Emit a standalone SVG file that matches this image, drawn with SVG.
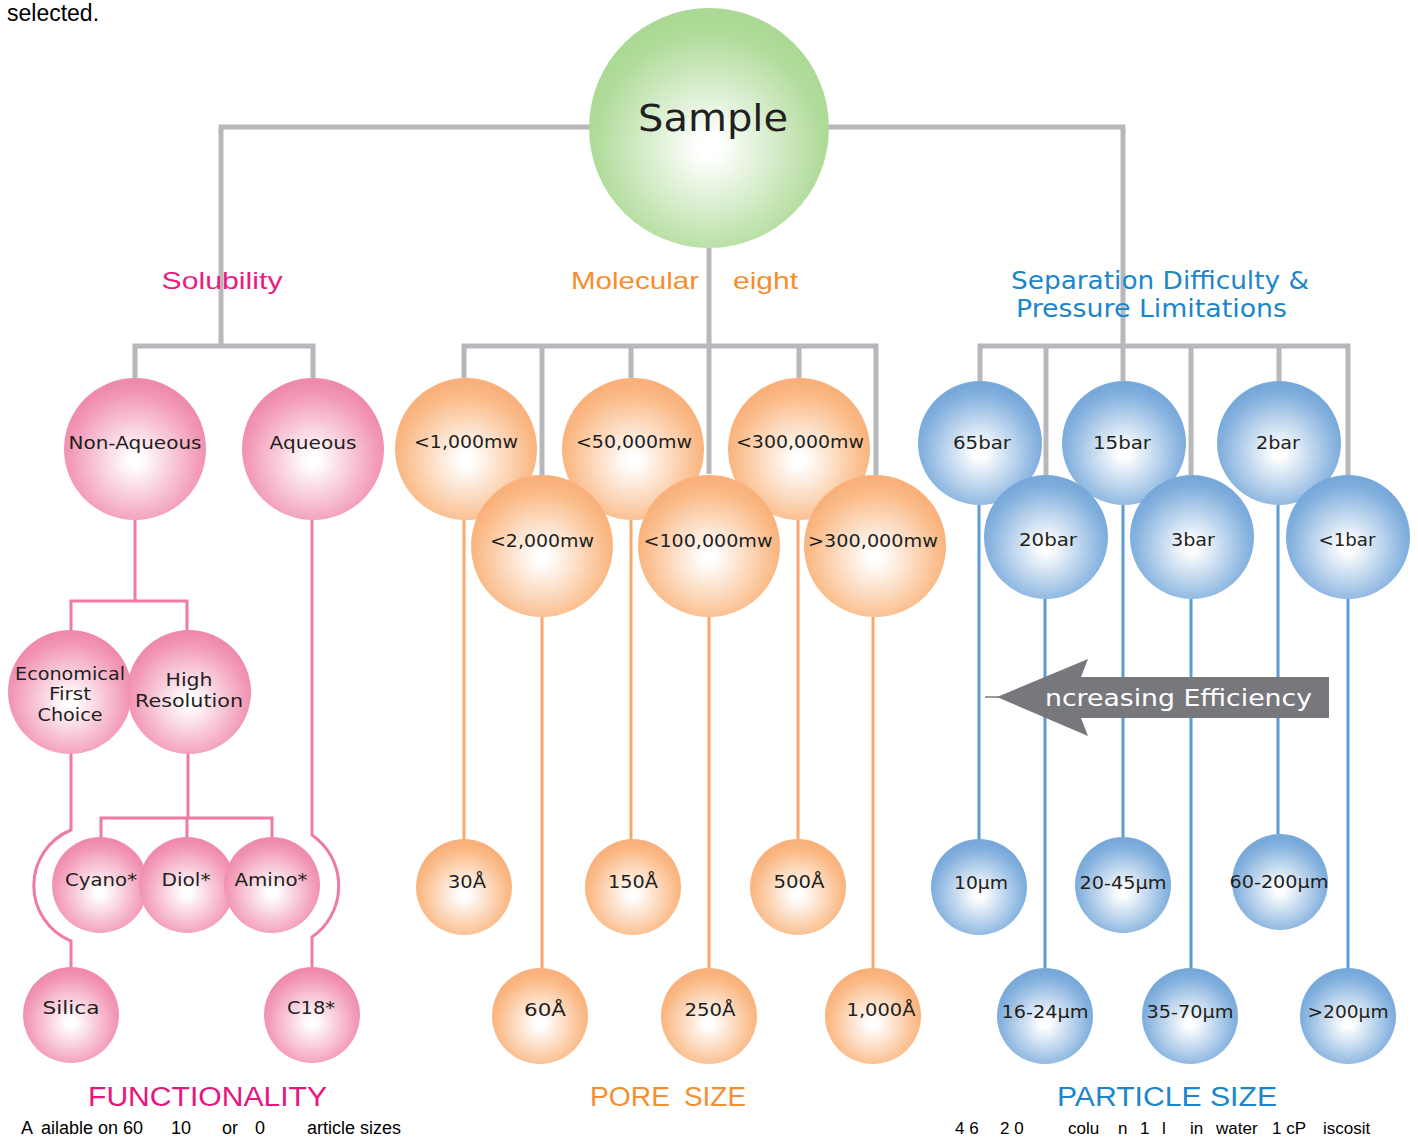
<svg xmlns="http://www.w3.org/2000/svg" width="1418" height="1137" viewBox="0 0 1418 1137">
<defs>
<radialGradient id="gG" cx="50%" cy="58%" r="55%"><stop offset="0" stop-color="#ffffff"/><stop offset="0.08" stop-color="#ffffff"/><stop offset="0.85" stop-color="#b1dc9b"/><stop offset="1" stop-color="#abd995"/></radialGradient>
<radialGradient id="gP" cx="50%" cy="58%" r="55%"><stop offset="0" stop-color="#ffffff"/><stop offset="0.08" stop-color="#ffffff"/><stop offset="0.85" stop-color="#f298b6"/><stop offset="1" stop-color="#ef8aad"/></radialGradient>
<radialGradient id="gO" cx="50%" cy="58%" r="55%"><stop offset="0" stop-color="#ffffff"/><stop offset="0.08" stop-color="#ffffff"/><stop offset="0.85" stop-color="#fab985"/><stop offset="1" stop-color="#f9b07a"/></radialGradient>
<radialGradient id="gB" cx="50%" cy="58%" r="55%"><stop offset="0" stop-color="#ffffff"/><stop offset="0.08" stop-color="#ffffff"/><stop offset="0.85" stop-color="#84b1de"/><stop offset="1" stop-color="#76a8da"/></radialGradient>
<style>
.g{fill:none;stroke:#b7b8bc;stroke-width:5}
.pl{fill:none;stroke:#f07aa2;stroke-width:3}
.ol{fill:none;stroke:#f9a86c;stroke-width:3}
.bl{fill:none;stroke:#5b9bd5;stroke-width:3}
.cp{fill:url(#gP)}
.co{fill:url(#gO)}
.cb{fill:url(#gB)}
.lbl{font-family:"DejaVu Sans",Verdana,sans-serif;font-size:18px;fill:#231f20;text-anchor:middle}
.hd{font-family:"DejaVu Sans",sans-serif;font-size:24px}
.ft{font-family:"Liberation Sans",Arial,sans-serif;font-size:18px;fill:#000}
</style>
</defs>
<rect width="1418" height="1137" fill="#ffffff"/>
<text class="ft" x="7" y="21" style="font-size:23px">selected.</text>

<g id="connectors">
<!-- gray -->
<path class="g" d="M590,127 H221 V346 M135,378 V346 H313 V378"/>
<path class="g" d="M829,127 H1123 V381"/>
<path class="g" d="M709,248 V474 M464,378 V346 H876 V475 M542,346 V475 M631,346 V378 M799,346 V378"/>
<path class="g" d="M980,381 V346 H1348 V475 M1046,346 V475 M1191,346 V475 M1279,346 V381"/>
<!-- pink -->
<path class="pl" d="M135,520 V601 M71,630 V601 H187 V630"/>
<path class="pl" d="M71,754 V830 A60,60 0 0 0 71,941 V967"/>
<path class="pl" d="M312,520 V835 A62,62 0 0 1 312,937 V967"/>
<path class="pl" d="M188,754 V818 M101,838 V818 H272 V838 M187,818 V838"/>
<!-- orange -->
<path class="ol" d="M464,520 V840 M542,617 V968 M631,520 V840 M709,617 V968 M798,520 V840 M873,617 V968"/>
<!-- blue -->
<path class="bl" d="M979,505 V840 M1045,599 V968 M1123,505 V838 M1191,599 V968 M1278,505 V834 M1348,599 V968"/>
</g>

<g id="sample"><circle cx="709" cy="128" r="120" fill="url(#gG)"/><text class="lbl" x="713" y="131" style="font-size:38px" textLength="150" lengthAdjust="spacingAndGlyphs">Sample</text></g>

<g id="headers">
<text class="hd" x="222" y="289" fill="#ec1b83" text-anchor="middle" textLength="121" lengthAdjust="spacingAndGlyphs" style="font-family:'Liberation Sans',Arial,sans-serif">Solubility</text>
<text class="hd" x="571" y="289" fill="#f68d2e" textLength="128" lengthAdjust="spacingAndGlyphs" style="font-family:'Liberation Sans',Arial,sans-serif">Molecular</text>
<text class="hd" x="733" y="289" fill="#f68d2e" textLength="65" lengthAdjust="spacingAndGlyphs" style="font-family:'Liberation Sans',Arial,sans-serif">eight</text>
<text class="hd" x="1011" y="289" fill="#1b86cc" textLength="298" lengthAdjust="spacingAndGlyphs">Separation Difficulty &amp;</text>
<text class="hd" x="1016" y="317" fill="#1b86cc" textLength="271" lengthAdjust="spacingAndGlyphs">Pressure Limitations</text>
</g>

<g id="non-aqueous"><circle class="cp" cx="135" cy="449" r="71"/><text class="lbl" x="135" y="449" textLength="133" lengthAdjust="spacingAndGlyphs">Non-Aqueous</text></g>
<g id="aqueous"><circle class="cp" cx="313" cy="449" r="71"/><text class="lbl" x="313" y="449" textLength="87" lengthAdjust="spacingAndGlyphs">Aqueous</text></g>
<g id="economical"><circle class="cp" cx="70" cy="692" r="62"/>
<text class="lbl" x="70" y="680" textLength="110" lengthAdjust="spacingAndGlyphs">Economical</text>
<text class="lbl" x="70" y="700" textLength="42" lengthAdjust="spacingAndGlyphs">First</text>
<text class="lbl" x="70" y="721" textLength="65" lengthAdjust="spacingAndGlyphs">Choice</text></g>
<g id="high-resolution"><circle class="cp" cx="189" cy="692" r="62"/>
<text class="lbl" x="189" y="686" textLength="47" lengthAdjust="spacingAndGlyphs">High</text>
<text class="lbl" x="189" y="707" textLength="108" lengthAdjust="spacingAndGlyphs">Resolution</text></g>
<g id="cyano"><circle class="cp" cx="100" cy="885" r="48"/><text class="lbl" x="101" y="886" textLength="72" lengthAdjust="spacingAndGlyphs">Cyano*</text></g>
<g id="diol"><circle class="cp" cx="187" cy="885" r="48"/><text class="lbl" x="186" y="886" textLength="49" lengthAdjust="spacingAndGlyphs">Diol*</text></g>
<g id="amino"><circle class="cp" cx="272" cy="885" r="48"/><text class="lbl" x="271" y="886" textLength="73" lengthAdjust="spacingAndGlyphs">Amino*</text></g>
<g id="silica"><circle class="cp" cx="71" cy="1015" r="48"/><text class="lbl" x="71" y="1014" textLength="57" lengthAdjust="spacingAndGlyphs">Silica</text></g>
<g id="c18"><circle class="cp" cx="312" cy="1015" r="48"/><text class="lbl" x="311" y="1014" textLength="48" lengthAdjust="spacingAndGlyphs">C18*</text></g>

<g id="mw1000"><circle class="co" cx="466" cy="449" r="71"/><text class="lbl" x="466" y="448" textLength="104" lengthAdjust="spacingAndGlyphs">&lt;1,000mw</text></g>
<g id="mw50000"><circle class="co" cx="633" cy="449" r="71"/><text class="lbl" x="634" y="448" textLength="116" lengthAdjust="spacingAndGlyphs">&lt;50,000mw</text></g>
<g id="mw300000"><circle class="co" cx="799" cy="449" r="71"/><text class="lbl" x="800" y="448" textLength="128" lengthAdjust="spacingAndGlyphs">&lt;300,000mw</text></g>
<g id="mw2000"><circle class="co" cx="542" cy="546" r="71"/><text class="lbl" x="542" y="547" textLength="104" lengthAdjust="spacingAndGlyphs">&lt;2,000mw</text></g>
<g id="mw100000"><circle class="co" cx="709" cy="546" r="71"/><text class="lbl" x="708" y="547" textLength="129" lengthAdjust="spacingAndGlyphs">&lt;100,000mw</text></g>
<g id="mwgt300000"><circle class="co" cx="875" cy="546" r="71"/><text class="lbl" x="873" y="547" textLength="130" lengthAdjust="spacingAndGlyphs">&gt;300,000mw</text></g>

<g id="p30"><circle class="co" cx="464" cy="887" r="48"/><text class="lbl" x="467" y="888" textLength="38" lengthAdjust="spacingAndGlyphs">30Å</text></g>
<g id="p150"><circle class="co" cx="633" cy="887" r="48"/><text class="lbl" x="633" y="888" textLength="50" lengthAdjust="spacingAndGlyphs">150Å</text></g>
<g id="p500"><circle class="co" cx="798" cy="887" r="48"/><text class="lbl" x="799" y="888" textLength="51" lengthAdjust="spacingAndGlyphs">500Å</text></g>
<g id="p60"><circle class="co" cx="540" cy="1016" r="48"/><text class="lbl" x="545" y="1016" textLength="42" lengthAdjust="spacingAndGlyphs">60Å</text></g>
<g id="p250"><circle class="co" cx="709" cy="1016" r="48"/><text class="lbl" x="710" y="1016" textLength="51" lengthAdjust="spacingAndGlyphs">250Å</text></g>
<g id="p1000"><circle class="co" cx="873" cy="1016" r="48"/><text class="lbl" x="881" y="1016" textLength="69" lengthAdjust="spacingAndGlyphs">1,000Å</text></g>

<g id="b65"><circle class="cb" cx="980" cy="443" r="62"/><text class="lbl" x="982" y="449" textLength="58" lengthAdjust="spacingAndGlyphs">65bar</text></g>
<g id="b15"><circle class="cb" cx="1124" cy="443" r="62"/><text class="lbl" x="1122" y="449" textLength="58" lengthAdjust="spacingAndGlyphs">15bar</text></g>
<g id="b2"><circle class="cb" cx="1279" cy="443" r="62"/><text class="lbl" x="1278" y="449" textLength="44" lengthAdjust="spacingAndGlyphs">2bar</text></g>
<g id="b20"><circle class="cb" cx="1046" cy="537" r="62"/><text class="lbl" x="1048" y="546" textLength="58" lengthAdjust="spacingAndGlyphs">20bar</text></g>
<g id="b3"><circle class="cb" cx="1192" cy="537" r="62"/><text class="lbl" x="1193" y="546" textLength="44" lengthAdjust="spacingAndGlyphs">3bar</text></g>
<g id="blt1"><circle class="cb" cx="1348" cy="537" r="62"/><text class="lbl" x="1347" y="546" textLength="57" lengthAdjust="spacingAndGlyphs">&lt;1bar</text></g>

<g id="s10"><circle class="cb" cx="979" cy="887" r="48"/><text class="lbl" x="981" y="889" textLength="54" lengthAdjust="spacingAndGlyphs">10µm</text></g>
<g id="s2045"><circle class="cb" cx="1123" cy="885" r="48"/><text class="lbl" x="1123" y="889" textLength="87" lengthAdjust="spacingAndGlyphs">20-45µm</text></g>
<g id="s60200"><circle class="cb" cx="1280" cy="882" r="48"/><text class="lbl" x="1279" y="888" textLength="99" lengthAdjust="spacingAndGlyphs">60-200µm</text></g>
<g id="s1624"><circle class="cb" cx="1045" cy="1016" r="48"/><text class="lbl" x="1045" y="1018" textLength="87" lengthAdjust="spacingAndGlyphs">16-24µm</text></g>
<g id="s3570"><circle class="cb" cx="1190" cy="1016" r="48"/><text class="lbl" x="1190" y="1018" textLength="87" lengthAdjust="spacingAndGlyphs">35-70µm</text></g>
<g id="sgt200"><circle class="cb" cx="1348" cy="1016" r="48"/><text class="lbl" x="1348" y="1018" textLength="81" lengthAdjust="spacingAndGlyphs">&gt;200µm</text></g>

<g id="efficiency-arrow">
<line x1="985" y1="697" x2="1000" y2="697" stroke="#77787b" stroke-width="1.5"/>
<polygon points="997,697 1088,659 1081,677 1329,677 1329,718 1081,718 1088,736" fill="#77787b"/>
<text x="1045" y="706" fill="#ffffff" style="font-family:'DejaVu Sans',sans-serif;font-size:23px" textLength="267" lengthAdjust="spacingAndGlyphs">ncreasing Efficiency</text>
</g>

<g id="footers">
<text x="88" y="1106" fill="#e8157f" style="font-family:'Liberation Sans',Arial,sans-serif;font-size:27px" textLength="239" lengthAdjust="spacingAndGlyphs">FUNCTIONALITY</text>
<text x="590" y="1106" fill="#f68d2e" style="font-family:'Liberation Sans',Arial,sans-serif;font-size:27px" textLength="80" lengthAdjust="spacingAndGlyphs">PORE</text>
<text x="684" y="1106" fill="#f68d2e" style="font-family:'Liberation Sans',Arial,sans-serif;font-size:27px" textLength="62" lengthAdjust="spacingAndGlyphs">SIZE</text>
<text x="1057" y="1106" fill="#1b86cc" style="font-family:'Liberation Sans',Arial,sans-serif;font-size:27px" textLength="220" lengthAdjust="spacingAndGlyphs">PARTICLE SIZE</text>
<text class="ft" y="1134"><tspan x="21">A</tspan><tspan x="41">ailable on 60</tspan><tspan x="171">10</tspan><tspan x="222">or</tspan><tspan x="255">0</tspan><tspan x="307">article sizes</tspan></text>
<text class="ft" y="1134" style="font-size:17px"><tspan x="955">4 6</tspan><tspan x="1000">2 0</tspan><tspan x="1068">colu</tspan><tspan x="1118">n</tspan><tspan x="1140">1</tspan><tspan x="1162">l</tspan><tspan x="1190">in</tspan><tspan x="1216">water</tspan><tspan x="1272">1 cP</tspan><tspan x="1323">iscosit</tspan></text>
</g>
</svg>
